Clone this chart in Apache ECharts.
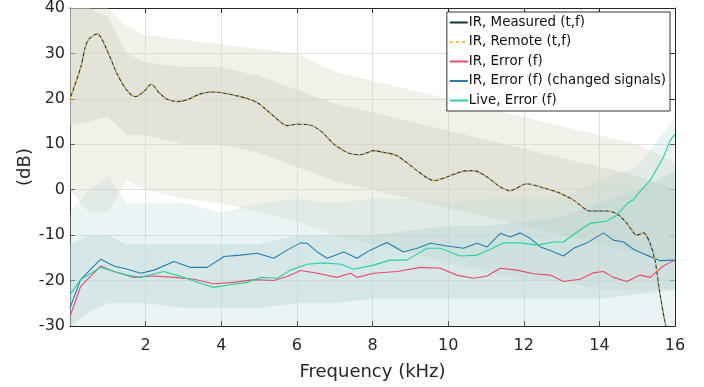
<!DOCTYPE html>
<html>
<head>
<meta charset="utf-8">
<script src="https://cdn.jsdelivr.net/npm/echarts@6/dist/echarts.min.js"></script>
<style>html,body{margin:0;padding:0;background:#fff}#c{width:704px;height:387px}</style>
</head>
<body>
<div id="c"></div>
<script>
// ---- Data ----
const xTicks = [0, 2, 4, 6, 8, 10, 12, 14, 16];
const yTicks = [-30, -20, -10, 0, 10, 20, 30, 40];

const measFreq = [0,0.28,0.46,0.72,0.99,1.25,1.52,1.74,1.95,2.15,2.35,2.57,2.84,3.1,3.45,3.72,3.98,4.33,4.69,4.95,5.22,5.48,5.74,6.0,6.31,6.62,6.97,7.16,7.42,7.68,8.03,8.3,8.65,9.18,9.62,9.97,10.41,10.67,11.03,11.38,11.64,12.08,12.44,12.88,13.14,13.32,13.67,13.84,14.2,14.46,14.73,14.99,15.17,15.34,15.47,15.6,15.74,15.85];
const measVal  = [20,26.8,32.7,34.3,30.5,25.4,21.7,20.5,21.6,23.2,21.4,19.9,19.4,19.8,21.1,21.5,21.4,20.8,20.1,19.2,17.4,15.5,14.1,14.4,14.3,13.0,10.1,9.0,7.9,7.7,8.6,8.2,7.5,4.2,2.0,2.8,4.1,4.2,2.8,0.6,-0.2,1.3,0.6,-0.5,-1.5,-2.3,-4.5,-4.7,-4.7,-5.3,-7.4,-10.0,-9.5,-11.8,-15.5,-22.8,-29.3,-33];

const errFreq = [0,0.28,0.81,1.16,1.69,2.22,2.75,3.28,3.8,4.33,4.86,5.39,5.74,6.1,6.54,7.06,7.42,7.59,8.03,8.65,9.27,9.79,10.23,10.67,11.03,11.38,11.82,12.26,12.7,13.05,13.49,13.84,14.11,14.37,14.73,15.08,15.34,15.69,16];
const errVal  = [-27.9,-21.3,-16.8,-18.0,-19.3,-19.0,-19.3,-19.7,-20.7,-20.4,-19.8,-20.0,-19.1,-17.8,-18.4,-19.3,-18.4,-19.3,-18.4,-18.0,-17.1,-17.3,-18.8,-19.5,-19.0,-17.3,-17.7,-18.5,-18.8,-20.2,-19.7,-18.3,-18.0,-19.3,-20.2,-18.8,-19.3,-16.8,-15.5];

const chgFreq = [0,0.28,0.81,1.16,1.52,1.87,2.22,2.75,3.19,3.63,4.07,4.51,4.95,5.39,5.74,6.1,6.27,6.54,6.8,7.24,7.59,7.94,8.38,8.82,9.18,9.53,9.97,10.41,10.76,11.03,11.38,11.64,11.91,12.17,12.44,12.7,13.05,13.32,13.67,14.11,14.37,14.64,14.9,15.25,15.6,16];
const chgVal  = [-26.0,-19.8,-15.3,-16.8,-17.5,-18.4,-17.7,-15.8,-17.1,-17.1,-14.7,-14.4,-14.0,-15.1,-13.3,-11.7,-11.8,-13.7,-15.1,-13.7,-15.1,-13.3,-11.6,-13.7,-12.9,-11.8,-12.4,-12.9,-11.8,-12.6,-9.6,-10.4,-9.5,-10.7,-12.6,-13.4,-14.6,-12.9,-11.7,-9.5,-11.1,-11.5,-13.1,-14.4,-15.6,-15.5];

const liveFreq = [0,0.28,0.81,1.16,1.52,1.87,2.48,3.01,3.45,3.8,4.33,4.69,5.04,5.48,5.83,6.27,6.71,7.16,7.5,8.03,8.47,8.91,9.44,9.79,10.32,10.76,11.12,11.47,11.91,12.35,12.79,13.05,13.41,13.76,14.2,14.46,14.73,14.9,15.08,15.34,15.69,15.87,16];
const liveVal  = [-23.1,-19.8,-17.1,-18.0,-18.8,-19.3,-18.0,-19.3,-20.6,-21.5,-20.8,-20.4,-19.3,-19.5,-17.7,-16.4,-16.1,-16.4,-17.5,-16.6,-15.5,-15.5,-12.9,-12.9,-14.6,-14.4,-13.1,-11.7,-11.7,-12.2,-11.5,-11.5,-9.3,-7.4,-6.9,-5.6,-3.1,-2.2,-0.3,2.0,7.1,10.8,12.3];

// noise envelopes (approximate band extents)
const bandFreq      = [0,0.5,1,1.5,2,3,4,5,6,7,8,9,10,11,12,13,14,15,16];
const oliveOuterHi  = [40,40,40,36,34,33,32,31,30,26,24,22,20,18,16,14,12,10,6];
const oliveOuterLo  = [0,-5,-5,2,0,-2,-3,-5,-7,-10,-12,-14,-16,-18,-20,-20,-22,-22,-22];
const oliveCoreHi   = [40,40,38,30,28,27,27,25,22,19,17,15,13,11,9,7,5,3,0];
const oliveCoreLo   = [14,15,16,12,12,10,10,8,5,2,0,-2,-4,-6,-8,-10,-12,-14,-16];
const errOuterHi    = [-5,0,3,-3,-3,-3,-5,-3,-2,-3,-2,-2,-3,-2,-2,-2,2,5,16];
const errOuterLo    = [-30,-30,-30,-30,-30,-30,-30,-30,-30,-30,-30,-30,-30,-30,-30,-30,-30,-30,-30];
const errCoreHi     = [-12,-10,-10,-12,-12,-12,-12,-12,-10,-10,-10,-9,-8,-8,-7,-6,-3,0,4];
const errCoreLo     = [-30,-27,-25,-25,-25,-26,-26,-26,-25,-25,-24,-24,-24,-24,-24,-24,-24,-23,-22];

const names = ['IR, Measured (t,f)','IR, Remote (t,f)','IR, Error (f)','IR, Error (f) (changed signals)','Live, Error (f)'];

// ---- Build ----
const pairs = (fs, vs) => fs.map((f, i) => [f, vs[i]]);
const FONT = 'DejaVu Sans';

function band(lo, hi, color, opacity) {
  return {
    type:'custom', silent:true, clip:true, z:1,
    data: bandFreq.map((f, i) => [f, lo[i], hi[i]]),
    encode:{x:0, y:[1,2]},
    renderItem(params, api) {
      if (params.dataIndex !== 0) return null;
      const top = bandFreq.map((f, i) => api.coord([f, hi[i]]));
      const bot = bandFreq.map((f, i) => api.coord([f, lo[i]])).reverse();
      return { type:'polygon', shape:{points: top.concat(bot)},
               style:{fill:color, opacity:opacity} };
    }
  };
}

const lineSeries = (name, fs, vs, color, extra) => Object.assign({
  type:'line', name, data:pairs(fs, vs), symbol:'none', showSymbol:false, z:3,
  lineStyle:{color, width:1.1}, itemStyle:{color}
}, extra || {});

const chart = echarts.init(document.getElementById('c'), null, {renderer:'canvas'});
chart.setOption({
  animation:false,
  backgroundColor:'#fff',
  grid:{left:70, right:29, top:6, bottom:61, containLabel:false},
  legend:{
    data:names, orient:'vertical', right:34, top:12,
    backgroundColor:'#fff', borderColor:'#333', borderWidth:1, borderRadius:0,
    padding:[4,4,4,2], itemWidth:18, itemHeight:14, itemGap:6.5,
    itemStyle:{opacity:0},
    textStyle:{fontFamily:FONT, fontSize:13.4, color:'#111', padding:[0,0,0,-4]}
  },
  xAxis:[
    {type:'value', min:0, max:16, interval:2, position:'bottom',
     name:'Frequency (kHz)', nameLocation:'middle', nameGap:37,
     nameTextStyle:{fontFamily:FONT, fontSize:18, color:'#262626'},
     axisLine:{show:true, onZero:false, lineStyle:{color:'#262626', width:1}},
     axisTick:{show:true, inside:true, length:5, lineStyle:{color:'#262626'}},
     axisLabel:{fontFamily:FONT, fontSize:16, color:'#262626', margin:12,
       formatter:v => (xTicks.includes(v) && v !== 0) ? String(v) : ''},
     splitLine:{show:true, lineStyle:{color:'#e0e0e0', width:1}}},
    {type:'value', min:0, max:16, interval:2, position:'top',
     axisLine:{show:true, onZero:false, lineStyle:{color:'#262626', width:1}},
     axisTick:{show:true, inside:true, length:5, lineStyle:{color:'#262626'}},
     axisLabel:{show:false}, splitLine:{show:false}}
  ],
  yAxis:[
    {type:'value', min:-30, max:40, interval:10, position:'left',
     name:'(dB)', nameLocation:'middle', nameGap:36, nameMoveOverlap:false,
     nameTextStyle:{fontFamily:FONT, fontSize:18, color:'#262626'},
     axisLine:{show:true, onZero:false, lineStyle:{color:'#262626', width:1}},
     axisTick:{show:true, inside:true, length:5, lineStyle:{color:'#262626'}},
     axisLabel:{fontFamily:FONT, fontSize:16, color:'#262626', margin:5,
       formatter:v => yTicks.includes(v) ? String(v) : ''},
     splitLine:{show:true, lineStyle:{color:'#e0e0e0', width:1}}},
    {type:'value', min:-30, max:40, interval:10, position:'right',
     axisLine:{show:true, onZero:false, lineStyle:{color:'#262626', width:1}},
     axisTick:{show:true, inside:true, length:5, lineStyle:{color:'#262626'}},
     axisLabel:{show:false}, splitLine:{show:false}}
  ],
  series:[
    band(oliveOuterLo, oliveOuterHi, '#d6d6c4', 0.35),
    band(oliveCoreLo, oliveCoreHi, '#d3d3c0', 0.45),
    band(errOuterLo, errOuterHi, '#bcd9dc', 0.3),
    band(errCoreLo, errCoreHi, '#b5d5d5', 0.4),
    lineSeries(names[0], measFreq, measVal, '#12324a', {z:3, smooth:0.3}),
    lineSeries(names[1], measFreq, measVal, '#f5bd3c', {z:4, smooth:0.3, lineStyle:{color:'#f5bd3c', width:1.1, type:[3,3]}}),
    lineSeries(names[2], errFreq, errVal, '#f2476b'),
    lineSeries(names[3], chgFreq, chgVal, '#1f80b5'),
    lineSeries(names[4], liveFreq, liveVal, '#1fd8a0')
  ]
});
</script>
</body>
</html>
